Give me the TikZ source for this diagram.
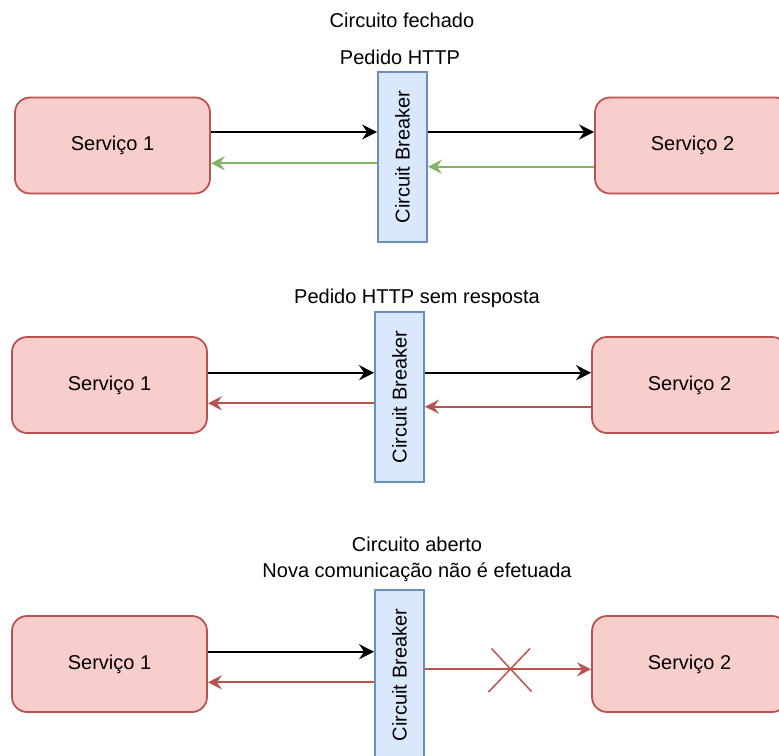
\documentclass[tikz,border=0pt]{standalone}
\usepackage{fontspec}
\setmainfont{Liberation Sans}
\usetikzlibrary{arrows.meta,calc}
\definecolor{redfill}{HTML}{F8CECC}
\definecolor{redline}{HTML}{B85450}
\definecolor{bluefill}{HTML}{DAE8FC}
\definecolor{blueline}{HTML}{6C8EBF}
\definecolor{greenline}{HTML}{82B366}

\begin{document}
\begin{tikzpicture}[x=1pt,y=-1pt,
  txt/.style={font=\fontsize{20}{24}\selectfont},
  svc/.style={txt, draw=redline, fill=redfill, rounded corners=15pt,
    line width=1.8pt, minimum width=195pt, minimum height=96pt, inner sep=0pt},
  cbreak/.style={txt, draw=blueline, fill=bluefill, line width=1.8pt,
    minimum width=170pt, minimum height=49pt, inner sep=0pt, rotate=90},
  lbl/.style={txt, inner sep=0pt},
  req/.style={draw=black, line width=2pt,
    -{Stealth[length=15pt,width=15pt,inset=5pt]}},
  ok/.style={draw=greenline, line width=2pt,
    -{Stealth[length=14pt,width=14pt,inset=5pt]}},
  fail/.style={draw=redline, line width=2pt,
    -{Stealth[length=14pt,width=14pt,inset=5pt]}},
]
\useasboundingbox (0,0) rectangle (779,755);

% ---- closed circuit ----
\node[lbl] (t1) at (402,20) {Circuito fechado};
\node[lbl] (t1b) at (400,57) {Pedido HTTP};
\node[svc] (a1) at (112.5,145.5) {Serviço 1};
\node[cbreak] (c1) at (402.5,157) {Circuit Breaker};
\node[svc] (b1) at (692.5,145.5) {Serviço 2};
\draw[req] (a1.east |- 0,132) -- (c1.north |- 0,132);
\draw[req] (c1.south |- 0,132) -- (b1.west |- 0,132);
\draw[ok] (b1.west |- 0,166.7) -- (c1.south |- 0,166.7);
\draw[ok] (c1.north |- 0,163.3) -- (a1.east |- 0,163.3);

% ---- request without response ----
\node[lbl] (t2) at (417,298) {Pedido HTTP sem resposta};
\node[svc] (a2) at (109.5,385) {Serviço 1};
\node[cbreak] (c2) at (399.5,397) {Circuit Breaker};
\node[svc] (b2) at (689.5,385) {Serviço 2};
\draw[req] (a2.east |- 0,372.7) -- (c2.north |- 0,372.7);
\draw[req] (c2.south |- 0,372.7) -- (b2.west |- 0,372.7);
\draw[fail] (b2.west |- 0,406.7) -- (c2.south |- 0,406.7);
\draw[fail] (c2.north |- 0,403.3) -- (a2.east |- 0,403.3);

% ---- open circuit ----
\node[lbl] (t3) at (417,544) {Circuito aberto};
\node[lbl] (t3b) at (417,572) {Nova comunicação não é efetuada};
\node[svc] (a3) at (109.5,664) {Serviço 1};
\node[cbreak] (c3) at (399.5,675) {Circuit Breaker};
\node[svc] (b3) at (689.5,664) {Serviço 2};
\draw[req] (a3.east |- 0,651.7) -- (c3.north |- 0,651.7);
\draw[fail] (c3.north |- 0,682.3) -- (a3.east |- 0,682.3);
\draw[fail] (c3.south |- 0,669.3) -- (b3.west |- 0,669.3);
% blocked request marker
\coordinate (xc) at (510,670);
\draw[redline, line width=1.5pt] ($(xc)+(-18.5,-21.5)$) -- ($(xc)+(21.5,21.5)$)
  ($(xc)+(20,-21.5)$) -- ($(xc)+(-21.5,22)$);
\end{tikzpicture}
\end{document}
